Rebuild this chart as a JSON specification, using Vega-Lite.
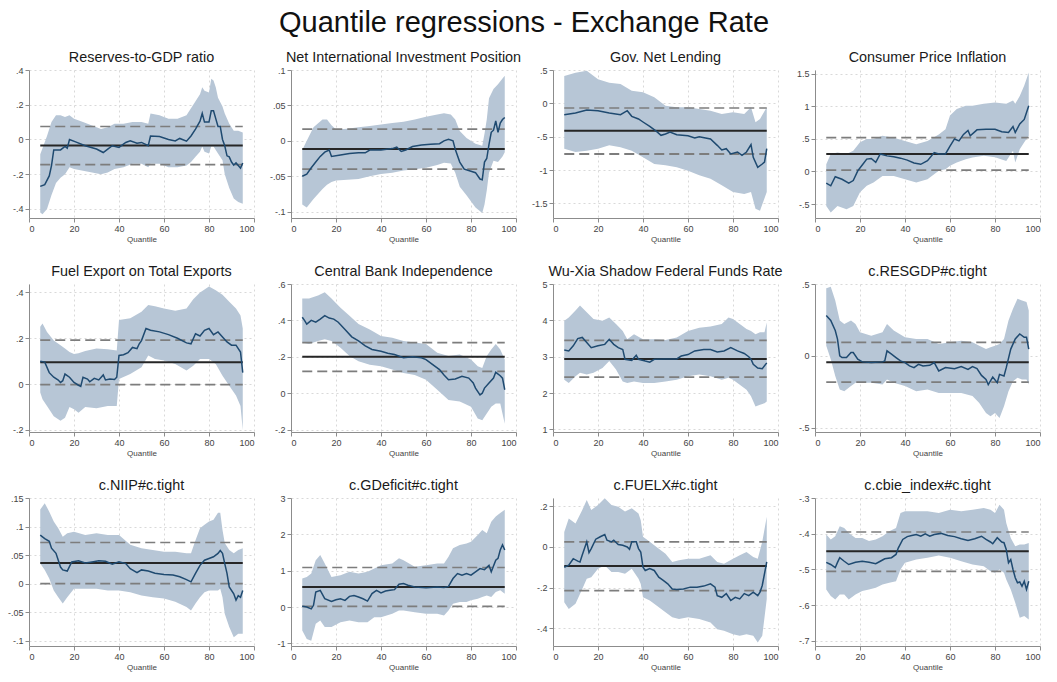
{
  "$schema": "https://vega.github.io/schema/vega-lite/v6.json",
  "background": "white",
  "padding": {"left": 7, "top": 8, "right": 2, "bottom": 2},
  "title": {"text": "Quantile regressions - Exchange Rate", "fontSize": 29, "anchor": "middle", "offset": 12, "color": "#111"},
  "bounds": "flush",
  "datasets": {
    "est": [
      {"p":"res","q":5,"b":-0.27},{"p":"res","q":7,"b":-0.26},{"p":"res","q":9,"b":-0.21},{"p":"res","q":10,"b":-0.15},{"p":"res","q":11,"b":-0.06},{"p":"res","q":14,"b":-0.06},{"p":"res","q":16,"b":-0.04},{"p":"res","q":17,"b":-0.05},{"p":"res","q":18,"b":0.0},{"p":"res","q":21,"b":-0.015},{"p":"res","q":25,"b":-0.036},{"p":"res","q":30,"b":-0.055},{"p":"res","q":33,"b":-0.075},{"p":"res","q":35,"b":-0.055},{"p":"res","q":37,"b":-0.036},{"p":"res","q":40,"b":-0.046},{"p":"res","q":43,"b":-0.017},{"p":"res","q":45,"b":-0.008},{"p":"res","q":48,"b":-0.021},{"p":"res","q":50,"b":-0.017},{"p":"res","q":53,"b":-0.036},{"p":"res","q":54,"b":0.02},{"p":"res","q":58,"b":0.017},{"p":"res","q":62,"b":0.0},{"p":"res","q":65,"b":-0.008},{"p":"res","q":67,"b":0.006},{"p":"res","q":70,"b":-0.01},{"p":"res","q":72,"b":0.02},{"p":"res","q":74,"b":0.06},{"p":"res","q":76,"b":0.105},{"p":"res","q":77,"b":0.15},{"p":"res","q":78,"b":0.1},{"p":"res","q":80,"b":0.1},{"p":"res","q":81,"b":0.165},{"p":"res","q":82,"b":0.165},{"p":"res","q":83,"b":0.12},{"p":"res","q":84,"b":0.075},{"p":"res","q":85,"b":0.075},{"p":"res","q":86,"b":0.0},{"p":"res","q":87,"b":-0.036},{"p":"res","q":88,"b":-0.094},{"p":"res","q":89,"b":-0.1},{"p":"res","q":90,"b":-0.13},{"p":"res","q":91,"b":-0.147},{"p":"res","q":92,"b":-0.135},{"p":"res","q":93,"b":-0.15},{"p":"res","q":94,"b":-0.165},{"p":"res","q":95,"b":-0.135},

      {"p":"niip","q":5,"b":-0.05},{"p":"niip","q":7,"b":-0.047},{"p":"niip","q":9,"b":-0.038},{"p":"niip","q":11,"b":-0.03},{"p":"niip","q":13,"b":-0.022},{"p":"niip","q":15,"b":-0.016},{"p":"niip","q":17,"b":-0.013},{"p":"niip","q":18,"b":-0.022},{"p":"niip","q":22,"b":-0.02},{"p":"niip","q":26,"b":-0.018},{"p":"niip","q":30,"b":-0.017},{"p":"niip","q":33,"b":-0.017},{"p":"niip","q":35,"b":-0.013},{"p":"niip","q":40,"b":-0.013},{"p":"niip","q":45,"b":-0.011},{"p":"niip","q":47,"b":-0.009},{"p":"niip","q":49,"b":-0.015},{"p":"niip","q":51,"b":-0.013},{"p":"niip","q":54,"b":-0.008},{"p":"niip","q":58,"b":-0.006},{"p":"niip","q":62,"b":-0.005},{"p":"niip","q":66,"b":-0.004},{"p":"niip","q":68,"b":0.0},{"p":"niip","q":70,"b":0.002},{"p":"niip","q":72,"b":0.0},{"p":"niip","q":73,"b":-0.012},{"p":"niip","q":75,"b":-0.03},{"p":"niip","q":77,"b":-0.04},{"p":"niip","q":80,"b":-0.043},{"p":"niip","q":82,"b":-0.045},{"p":"niip","q":84,"b":-0.054},{"p":"niip","q":85,"b":-0.055},{"p":"niip","q":86,"b":-0.03},{"p":"niip","q":87,"b":-0.025},{"p":"niip","q":88,"b":-0.005},{"p":"niip","q":89,"b":0.012},{"p":"niip","q":90,"b":0.015},{"p":"niip","q":91,"b":0.028},{"p":"niip","q":92,"b":0.012},{"p":"niip","q":93,"b":0.025},{"p":"niip","q":94,"b":0.03},{"p":"niip","q":95,"b":0.033},

      {"p":"gov","q":5,"b":-0.17},{"p":"gov","q":10,"b":-0.145},{"p":"gov","q":15,"b":-0.1},{"p":"gov","q":20,"b":-0.11},{"p":"gov","q":25,"b":-0.145},{"p":"gov","q":30,"b":-0.17},{"p":"gov","q":33,"b":-0.11},{"p":"gov","q":35,"b":-0.195},{"p":"gov","q":38,"b":-0.235},{"p":"gov","q":40,"b":-0.28},{"p":"gov","q":43,"b":-0.345},{"p":"gov","q":46,"b":-0.42},{"p":"gov","q":48,"b":-0.48},{"p":"gov","q":50,"b":-0.46},{"p":"gov","q":52,"b":-0.43},{"p":"gov","q":55,"b":-0.47},{"p":"gov","q":60,"b":-0.485},{"p":"gov","q":63,"b":-0.52},{"p":"gov","q":65,"b":-0.5},{"p":"gov","q":70,"b":-0.535},{"p":"gov","q":73,"b":-0.63},{"p":"gov","q":75,"b":-0.7},{"p":"gov","q":77,"b":-0.68},{"p":"gov","q":79,"b":-0.76},{"p":"gov","q":82,"b":-0.73},{"p":"gov","q":84,"b":-0.78},{"p":"gov","q":86,"b":-0.73},{"p":"gov","q":88,"b":-0.62},{"p":"gov","q":89,"b":-0.81},{"p":"gov","q":91,"b":-0.96},{"p":"gov","q":93,"b":-0.91},{"p":"gov","q":94,"b":-0.88},{"p":"gov","q":95,"b":-0.68},

      {"p":"cpi","q":5,"b":-0.18},{"p":"cpi","q":7,"b":-0.22},{"p":"cpi","q":9,"b":-0.08},{"p":"cpi","q":12,"b":-0.12},{"p":"cpi","q":15,"b":-0.18},{"p":"cpi","q":17,"b":-0.14},{"p":"cpi","q":19,"b":0.01},{"p":"cpi","q":21,"b":0.1},{"p":"cpi","q":23,"b":0.19},{"p":"cpi","q":25,"b":0.2},{"p":"cpi","q":27,"b":0.14},{"p":"cpi","q":29,"b":0.27},{"p":"cpi","q":32,"b":0.24},{"p":"cpi","q":35,"b":0.225},{"p":"cpi","q":38,"b":0.205},{"p":"cpi","q":41,"b":0.175},{"p":"cpi","q":44,"b":0.13},{"p":"cpi","q":47,"b":0.11},{"p":"cpi","q":50,"b":0.165},{"p":"cpi","q":53,"b":0.29},{"p":"cpi","q":55,"b":0.27},{"p":"cpi","q":58,"b":0.27},{"p":"cpi","q":60,"b":0.39},{"p":"cpi","q":62,"b":0.5},{"p":"cpi","q":64,"b":0.47},{"p":"cpi","q":66,"b":0.57},{"p":"cpi","q":68,"b":0.63},{"p":"cpi","q":69,"b":0.55},{"p":"cpi","q":72,"b":0.64},{"p":"cpi","q":76,"b":0.65},{"p":"cpi","q":80,"b":0.65},{"p":"cpi","q":83,"b":0.61},{"p":"cpi","q":86,"b":0.6},{"p":"cpi","q":88,"b":0.69},{"p":"cpi","q":89,"b":0.6},{"p":"cpi","q":91,"b":0.73},{"p":"cpi","q":93,"b":0.8},{"p":"cpi","q":95,"b":1.01},

      {"p":"fuel","q":5,"b":0.1},{"p":"fuel","q":7,"b":0.096},{"p":"fuel","q":9,"b":0.05},{"p":"fuel","q":11,"b":0.03},{"p":"fuel","q":13,"b":0.018},{"p":"fuel","q":14,"b":0.007},{"p":"fuel","q":15,"b":0.015},{"p":"fuel","q":16,"b":0.044},{"p":"fuel","q":18,"b":0.03},{"p":"fuel","q":20,"b":0.007},{"p":"fuel","q":22,"b":-0.005},{"p":"fuel","q":23,"b":-0.01},{"p":"fuel","q":24,"b":0.03},{"p":"fuel","q":26,"b":0.022},{"p":"fuel","q":27,"b":0.01},{"p":"fuel","q":29,"b":0.025},{"p":"fuel","q":31,"b":0.018},{"p":"fuel","q":33,"b":0.04},{"p":"fuel","q":34,"b":0.018},{"p":"fuel","q":36,"b":0.022},{"p":"fuel","q":38,"b":0.02},{"p":"fuel","q":39,"b":0.03},{"p":"fuel","q":40,"b":0.125},{"p":"fuel","q":42,"b":0.128},{"p":"fuel","q":44,"b":0.137},{"p":"fuel","q":46,"b":0.16},{"p":"fuel","q":48,"b":0.155},{"p":"fuel","q":49,"b":0.176},{"p":"fuel","q":50,"b":0.19},{"p":"fuel","q":52,"b":0.243},{"p":"fuel","q":54,"b":0.235},{"p":"fuel","q":58,"b":0.228},{"p":"fuel","q":62,"b":0.216},{"p":"fuel","q":66,"b":0.2},{"p":"fuel","q":70,"b":0.18},{"p":"fuel","q":72,"b":0.176},{"p":"fuel","q":74,"b":0.22},{"p":"fuel","q":76,"b":0.21},{"p":"fuel","q":78,"b":0.235},{"p":"fuel","q":80,"b":0.243},{"p":"fuel","q":82,"b":0.216},{"p":"fuel","q":84,"b":0.228},{"p":"fuel","q":86,"b":0.206},{"p":"fuel","q":88,"b":0.184},{"p":"fuel","q":90,"b":0.17},{"p":"fuel","q":92,"b":0.17},{"p":"fuel","q":94,"b":0.14},{"p":"fuel","q":95,"b":0.05},

      {"p":"cbi","q":5,"b":0.417},{"p":"cbi","q":6,"b":0.4},{"p":"cbi","q":7,"b":0.38},{"p":"cbi","q":9,"b":0.4},{"p":"cbi","q":11,"b":0.39},{"p":"cbi","q":13,"b":0.407},{"p":"cbi","q":15,"b":0.426},{"p":"cbi","q":17,"b":0.413},{"p":"cbi","q":19,"b":0.407},{"p":"cbi","q":21,"b":0.39},{"p":"cbi","q":24,"b":0.35},{"p":"cbi","q":27,"b":0.31},{"p":"cbi","q":30,"b":0.287},{"p":"cbi","q":33,"b":0.26},{"p":"cbi","q":36,"b":0.24},{"p":"cbi","q":40,"b":0.23},{"p":"cbi","q":43,"b":0.22},{"p":"cbi","q":46,"b":0.213},{"p":"cbi","q":50,"b":0.195},{"p":"cbi","q":54,"b":0.2},{"p":"cbi","q":58,"b":0.195},{"p":"cbi","q":60,"b":0.185},{"p":"cbi","q":63,"b":0.157},{"p":"cbi","q":66,"b":0.13},{"p":"cbi","q":68,"b":0.1},{"p":"cbi","q":70,"b":0.074},{"p":"cbi","q":73,"b":0.078},{"p":"cbi","q":76,"b":0.093},{"p":"cbi","q":79,"b":0.083},{"p":"cbi","q":81,"b":0.056},{"p":"cbi","q":82,"b":0.028},{"p":"cbi","q":84,"b":-0.009},{"p":"cbi","q":85,"b":0.0},{"p":"cbi","q":86,"b":0.028},{"p":"cbi","q":88,"b":0.056},{"p":"cbi","q":90,"b":0.083},{"p":"cbi","q":91,"b":0.115},{"p":"cbi","q":93,"b":0.096},{"p":"cbi","q":94,"b":0.083},{"p":"cbi","q":95,"b":0.019},

      {"p":"wx","q":5,"b":3.185},{"p":"wx","q":7,"b":3.16},{"p":"wx","q":9,"b":3.3},{"p":"wx","q":11,"b":3.5},{"p":"wx","q":13,"b":3.53},{"p":"wx","q":15,"b":3.39},{"p":"wx","q":17,"b":3.25},{"p":"wx","q":20,"b":3.3},{"p":"wx","q":23,"b":3.34},{"p":"wx","q":25,"b":3.48},{"p":"wx","q":27,"b":3.34},{"p":"wx","q":29,"b":3.25},{"p":"wx","q":31,"b":3.2},{"p":"wx","q":32,"b":2.93},{"p":"wx","q":35,"b":2.9},{"p":"wx","q":37,"b":3.04},{"p":"wx","q":38,"b":2.93},{"p":"wx","q":41,"b":2.88},{"p":"wx","q":43,"b":2.85},{"p":"wx","q":45,"b":2.93},{"p":"wx","q":50,"b":2.94},{"p":"wx","q":55,"b":2.94},{"p":"wx","q":57,"b":3.02},{"p":"wx","q":60,"b":3.06},{"p":"wx","q":63,"b":3.16},{"p":"wx","q":67,"b":3.2},{"p":"wx","q":70,"b":3.2},{"p":"wx","q":73,"b":3.13},{"p":"wx","q":76,"b":3.16},{"p":"wx","q":79,"b":3.25},{"p":"wx","q":82,"b":3.16},{"p":"wx","q":85,"b":3.09},{"p":"wx","q":87,"b":3.0},{"p":"wx","q":88,"b":2.93},{"p":"wx","q":89,"b":2.79},{"p":"wx","q":91,"b":2.69},{"p":"wx","q":93,"b":2.67},{"p":"wx","q":95,"b":2.83},

      {"p":"res_t","q":5,"b":0.28},{"p":"res_t","q":7,"b":0.246},{"p":"res_t","q":9,"b":0.176},{"p":"res_t","q":10,"b":0.117},{"p":"res_t","q":11,"b":0.0},{"p":"res_t","q":12,"b":-0.012},{"p":"res_t","q":14,"b":-0.012},{"p":"res_t","q":16,"b":0.023},{"p":"res_t","q":17,"b":0.023},{"p":"res_t","q":19,"b":-0.023},{"p":"res_t","q":21,"b":-0.042},{"p":"res_t","q":25,"b":-0.047},{"p":"res_t","q":30,"b":-0.042},{"p":"res_t","q":31,"b":-0.035},{"p":"res_t","q":32,"b":0.035},{"p":"res_t","q":34,"b":0.012},{"p":"res_t","q":36,"b":-0.012},{"p":"res_t","q":38,"b":-0.035},{"p":"res_t","q":40,"b":-0.047},{"p":"res_t","q":42,"b":-0.07},{"p":"res_t","q":44,"b":-0.082},{"p":"res_t","q":46,"b":-0.059},{"p":"res_t","q":48,"b":-0.07},{"p":"res_t","q":51,"b":-0.066},{"p":"res_t","q":53,"b":-0.047},{"p":"res_t","q":55,"b":-0.105},{"p":"res_t","q":58,"b":-0.082},{"p":"res_t","q":62,"b":-0.089},{"p":"res_t","q":65,"b":-0.075},{"p":"res_t","q":68,"b":-0.094},{"p":"res_t","q":70,"b":-0.075},{"p":"res_t","q":72,"b":-0.089},{"p":"res_t","q":74,"b":-0.136},{"p":"res_t","q":76,"b":-0.164},{"p":"res_t","q":77,"b":-0.2},{"p":"res_t","q":79,"b":-0.148},{"p":"res_t","q":81,"b":-0.187},{"p":"res_t","q":82,"b":-0.129},{"p":"res_t","q":84,"b":-0.14},{"p":"res_t","q":85,"b":-0.082},{"p":"res_t","q":87,"b":0.047},{"p":"res_t","q":89,"b":0.117},{"p":"res_t","q":91,"b":0.152},{"p":"res_t","q":93,"b":0.129},{"p":"res_t","q":94,"b":0.129},{"p":"res_t","q":95,"b":0.047},

      {"p":"niip_t","q":5,"b":0.085},{"p":"niip_t","q":7,"b":0.079},{"p":"niip_t","q":9,"b":0.074},{"p":"niip_t","q":10,"b":0.062},{"p":"niip_t","q":12,"b":0.053},{"p":"niip_t","q":14,"b":0.029},{"p":"niip_t","q":15,"b":0.024},{"p":"niip_t","q":17,"b":0.022},{"p":"niip_t","q":19,"b":0.038},{"p":"niip_t","q":22,"b":0.04},{"p":"niip_t","q":25,"b":0.036},{"p":"niip_t","q":28,"b":0.038},{"p":"niip_t","q":31,"b":0.04},{"p":"niip_t","q":34,"b":0.039},{"p":"niip_t","q":37,"b":0.034},{"p":"niip_t","q":40,"b":0.038},{"p":"niip_t","q":43,"b":0.035},{"p":"niip_t","q":45,"b":0.026},{"p":"niip_t","q":48,"b":0.019},{"p":"niip_t","q":50,"b":0.024},{"p":"niip_t","q":53,"b":0.022},{"p":"niip_t","q":56,"b":0.018},{"p":"niip_t","q":60,"b":0.016},{"p":"niip_t","q":64,"b":0.015},{"p":"niip_t","q":67,"b":0.012},{"p":"niip_t","q":70,"b":0.007},{"p":"niip_t","q":72,"b":0.003},{"p":"niip_t","q":74,"b":0.018},{"p":"niip_t","q":76,"b":0.032},{"p":"niip_t","q":78,"b":0.041},{"p":"niip_t","q":80,"b":0.044},{"p":"niip_t","q":82,"b":0.047},{"p":"niip_t","q":84,"b":0.053},{"p":"niip_t","q":85,"b":0.058},{"p":"niip_t","q":86,"b":0.053},{"p":"niip_t","q":87,"b":0.035},{"p":"niip_t","q":88,"b":0.018},{"p":"niip_t","q":89,"b":-0.006},{"p":"niip_t","q":91,"b":-0.018},{"p":"niip_t","q":92,"b":-0.029},{"p":"niip_t","q":93,"b":-0.021},{"p":"niip_t","q":94,"b":-0.024},{"p":"niip_t","q":95,"b":-0.012},

      {"p":"gdef_t","q":5,"b":0.02},{"p":"gdef_t","q":7,"b":0.0},{"p":"gdef_t","q":9,"b":-0.05},{"p":"gdef_t","q":10,"b":0.05},{"p":"gdef_t","q":11,"b":0.415},{"p":"gdef_t","q":13,"b":0.46},{"p":"gdef_t","q":15,"b":0.23},{"p":"gdef_t","q":18,"b":0.157},{"p":"gdef_t","q":20,"b":0.2},{"p":"gdef_t","q":22,"b":0.23},{"p":"gdef_t","q":24,"b":0.185},{"p":"gdef_t","q":26,"b":0.295},{"p":"gdef_t","q":28,"b":0.32},{"p":"gdef_t","q":30,"b":0.277},{"p":"gdef_t","q":32,"b":0.23},{"p":"gdef_t","q":34,"b":0.166},{"p":"gdef_t","q":36,"b":0.37},{"p":"gdef_t","q":38,"b":0.46},{"p":"gdef_t","q":40,"b":0.39},{"p":"gdef_t","q":42,"b":0.44},{"p":"gdef_t","q":44,"b":0.46},{"p":"gdef_t","q":46,"b":0.48},{"p":"gdef_t","q":48,"b":0.63},{"p":"gdef_t","q":50,"b":0.646},{"p":"gdef_t","q":52,"b":0.6},{"p":"gdef_t","q":55,"b":0.554},{"p":"gdef_t","q":60,"b":0.535},{"p":"gdef_t","q":65,"b":0.554},{"p":"gdef_t","q":68,"b":0.54},{"p":"gdef_t","q":70,"b":0.57},{"p":"gdef_t","q":72,"b":0.785},{"p":"gdef_t","q":74,"b":0.923},{"p":"gdef_t","q":76,"b":0.877},{"p":"gdef_t","q":78,"b":0.92},{"p":"gdef_t","q":80,"b":0.877},{"p":"gdef_t","q":82,"b":0.97},{"p":"gdef_t","q":84,"b":1.06},{"p":"gdef_t","q":86,"b":1.03},{"p":"gdef_t","q":88,"b":1.15},{"p":"gdef_t","q":89,"b":0.97},{"p":"gdef_t","q":91,"b":1.29},{"p":"gdef_t","q":92,"b":1.34},{"p":"gdef_t","q":93,"b":1.57},{"p":"gdef_t","q":94,"b":1.71},{"p":"gdef_t","q":95,"b":1.57},

      {"p":"fuelx_t","q":5,"b":-0.1},{"p":"fuelx_t","q":7,"b":-0.09},{"p":"fuelx_t","q":9,"b":-0.058},{"p":"fuelx_t","q":11,"b":-0.07},{"p":"fuelx_t","q":12,"b":-0.074},{"p":"fuelx_t","q":13,"b":-0.04},{"p":"fuelx_t","q":15,"b":0.025},{"p":"fuelx_t","q":16,"b":-0.028},{"p":"fuelx_t","q":17,"b":-0.008},{"p":"fuelx_t","q":19,"b":0.038},{"p":"fuelx_t","q":21,"b":0.05},{"p":"fuelx_t","q":23,"b":0.061},{"p":"fuelx_t","q":24,"b":0.033},{"p":"fuelx_t","q":26,"b":0.025},{"p":"fuelx_t","q":27,"b":0.033},{"p":"fuelx_t","q":29,"b":0.012},{"p":"fuelx_t","q":31,"b":0.008},{"p":"fuelx_t","q":33,"b":0.0},{"p":"fuelx_t","q":34,"b":-0.012},{"p":"fuelx_t","q":35,"b":0.025},{"p":"fuelx_t","q":37,"b":0.025},{"p":"fuelx_t","q":38,"b":-0.008},{"p":"fuelx_t","q":39,"b":-0.025},{"p":"fuelx_t","q":40,"b":-0.1},{"p":"fuelx_t","q":41,"b":-0.116},{"p":"fuelx_t","q":43,"b":-0.107},{"p":"fuelx_t","q":45,"b":-0.116},{"p":"fuelx_t","q":47,"b":-0.149},{"p":"fuelx_t","q":49,"b":-0.165},{"p":"fuelx_t","q":51,"b":-0.182},{"p":"fuelx_t","q":53,"b":-0.207},{"p":"fuelx_t","q":55,"b":-0.21},{"p":"fuelx_t","q":58,"b":-0.207},{"p":"fuelx_t","q":61,"b":-0.198},{"p":"fuelx_t","q":64,"b":-0.198},{"p":"fuelx_t","q":67,"b":-0.193},{"p":"fuelx_t","q":70,"b":-0.182},{"p":"fuelx_t","q":72,"b":-0.198},{"p":"fuelx_t","q":73,"b":-0.24},{"p":"fuelx_t","q":75,"b":-0.248},{"p":"fuelx_t","q":77,"b":-0.23},{"p":"fuelx_t","q":79,"b":-0.264},{"p":"fuelx_t","q":81,"b":-0.248},{"p":"fuelx_t","q":83,"b":-0.256},{"p":"fuelx_t","q":85,"b":-0.23},{"p":"fuelx_t","q":87,"b":-0.24},{"p":"fuelx_t","q":89,"b":-0.223},{"p":"fuelx_t","q":91,"b":-0.24},{"p":"fuelx_t","q":92,"b":-0.223},{"p":"fuelx_t","q":93,"b":-0.19},{"p":"fuelx_t","q":95,"b":-0.074},

      {"p":"cbie_t","q":5,"b":-0.48},{"p":"cbie_t","q":7,"b":-0.486},{"p":"cbie_t","q":9,"b":-0.495},{"p":"cbie_t","q":10,"b":-0.48},{"p":"cbie_t","q":11,"b":-0.467},{"p":"cbie_t","q":13,"b":-0.477},{"p":"cbie_t","q":15,"b":-0.486},{"p":"cbie_t","q":18,"b":-0.48},{"p":"cbie_t","q":21,"b":-0.477},{"p":"cbie_t","q":24,"b":-0.48},{"p":"cbie_t","q":27,"b":-0.484},{"p":"cbie_t","q":29,"b":-0.477},{"p":"cbie_t","q":31,"b":-0.47},{"p":"cbie_t","q":34,"b":-0.467},{"p":"cbie_t","q":36,"b":-0.458},{"p":"cbie_t","q":37,"b":-0.44},{"p":"cbie_t","q":39,"b":-0.416},{"p":"cbie_t","q":41,"b":-0.408},{"p":"cbie_t","q":43,"b":-0.405},{"p":"cbie_t","q":45,"b":-0.402},{"p":"cbie_t","q":47,"b":-0.407},{"p":"cbie_t","q":49,"b":-0.4},{"p":"cbie_t","q":51,"b":-0.407},{"p":"cbie_t","q":53,"b":-0.402},{"p":"cbie_t","q":56,"b":-0.399},{"p":"cbie_t","q":59,"b":-0.405},{"p":"cbie_t","q":62,"b":-0.408},{"p":"cbie_t","q":65,"b":-0.414},{"p":"cbie_t","q":68,"b":-0.419},{"p":"cbie_t","q":71,"b":-0.414},{"p":"cbie_t","q":74,"b":-0.407},{"p":"cbie_t","q":76,"b":-0.416},{"p":"cbie_t","q":78,"b":-0.423},{"p":"cbie_t","q":79,"b":-0.428},{"p":"cbie_t","q":81,"b":-0.411},{"p":"cbie_t","q":83,"b":-0.423},{"p":"cbie_t","q":84,"b":-0.425},{"p":"cbie_t","q":85,"b":-0.444},{"p":"cbie_t","q":86,"b":-0.481},{"p":"cbie_t","q":87,"b":-0.472},{"p":"cbie_t","q":88,"b":-0.5},{"p":"cbie_t","q":89,"b":-0.523},{"p":"cbie_t","q":90,"b":-0.537},{"p":"cbie_t","q":91,"b":-0.535},{"p":"cbie_t","q":92,"b":-0.547},{"p":"cbie_t","q":93,"b":-0.533},{"p":"cbie_t","q":94,"b":-0.556},{"p":"cbie_t","q":95,"b":-0.533}
    ],
    "band": [
      {"p":"res","q":5,"lo":-0.42,"hi":-0.085},{"p":"res","q":6,"lo":-0.43,"hi":-0.05},{"p":"res","q":8,"lo":-0.4,"hi":0.02},{"p":"res","q":10,"lo":-0.32,"hi":0.1},{"p":"res","q":12,"lo":-0.25,"hi":0.14},{"p":"res","q":14,"lo":-0.22,"hi":0.14},{"p":"res","q":16,"lo":-0.2,"hi":0.13},{"p":"res","q":18,"lo":-0.16,"hi":0.14},{"p":"res","q":20,"lo":-0.17,"hi":0.12},{"p":"res","q":24,"lo":-0.18,"hi":0.1},{"p":"res","q":28,"lo":-0.19,"hi":0.08},{"p":"res","q":32,"lo":-0.2,"hi":0.06},{"p":"res","q":35,"lo":-0.19,"hi":0.07},{"p":"res","q":38,"lo":-0.17,"hi":0.09},{"p":"res","q":42,"lo":-0.16,"hi":0.09},{"p":"res","q":46,"lo":-0.14,"hi":0.1},{"p":"res","q":50,"lo":-0.14,"hi":0.1},{"p":"res","q":53,"lo":-0.16,"hi":0.09},{"p":"res","q":54,"lo":-0.14,"hi":0.15},{"p":"res","q":58,"lo":-0.14,"hi":0.14},{"p":"res","q":62,"lo":-0.16,"hi":0.12},{"p":"res","q":66,"lo":-0.16,"hi":0.12},{"p":"res","q":70,"lo":-0.15,"hi":0.14},{"p":"res","q":72,"lo":-0.13,"hi":0.18},{"p":"res","q":74,"lo":-0.1,"hi":0.22},{"p":"res","q":76,"lo":-0.07,"hi":0.26},{"p":"res","q":77,"lo":-0.04,"hi":0.3},{"p":"res","q":78,"lo":-0.07,"hi":0.28},{"p":"res","q":80,"lo":-0.08,"hi":0.27},{"p":"res","q":81,"lo":-0.04,"hi":0.35},{"p":"res","q":82,"lo":-0.04,"hi":0.34},{"p":"res","q":83,"lo":-0.06,"hi":0.3},{"p":"res","q":84,"lo":-0.08,"hi":0.24},{"p":"res","q":86,"lo":-0.12,"hi":0.19},{"p":"res","q":87,"lo":-0.2,"hi":0.15},{"p":"res","q":89,"lo":-0.28,"hi":0.09},{"p":"res","q":91,"lo":-0.34,"hi":0.05},{"p":"res","q":93,"lo":-0.36,"hi":0.05},{"p":"res","q":95,"lo":-0.37,"hi":0.04},

      {"p":"niip","q":5,"lo":-0.09,"hi":-0.013},{"p":"niip","q":7,"lo":-0.094,"hi":0.0},{"p":"niip","q":10,"lo":-0.082,"hi":0.019},{"p":"niip","q":14,"lo":-0.068,"hi":0.03},{"p":"niip","q":16,"lo":-0.062,"hi":0.03},{"p":"niip","q":18,"lo":-0.058,"hi":0.022},{"p":"niip","q":20,"lo":-0.056,"hi":0.016},{"p":"niip","q":25,"lo":-0.055,"hi":0.017},{"p":"niip","q":30,"lo":-0.054,"hi":0.019},{"p":"niip","q":35,"lo":-0.05,"hi":0.021},{"p":"niip","q":40,"lo":-0.047,"hi":0.023},{"p":"niip","q":45,"lo":-0.045,"hi":0.025},{"p":"niip","q":50,"lo":-0.042,"hi":0.027},{"p":"niip","q":55,"lo":-0.04,"hi":0.03},{"p":"niip","q":60,"lo":-0.038,"hi":0.034},{"p":"niip","q":65,"lo":-0.034,"hi":0.037},{"p":"niip","q":68,"lo":-0.031,"hi":0.039},{"p":"niip","q":71,"lo":-0.032,"hi":0.037},{"p":"niip","q":73,"lo":-0.045,"hi":0.03},{"p":"niip","q":75,"lo":-0.065,"hi":0.014},{"p":"niip","q":78,"lo":-0.077,"hi":0.004},{"p":"niip","q":82,"lo":-0.094,"hi":-0.004},{"p":"niip","q":85,"lo":-0.102,"hi":-0.007},{"p":"niip","q":86,"lo":-0.09,"hi":0.01},{"p":"niip","q":87,"lo":-0.07,"hi":0.03},{"p":"niip","q":88,"lo":-0.045,"hi":0.06},{"p":"niip","q":90,"lo":-0.028,"hi":0.073},{"p":"niip","q":92,"lo":-0.03,"hi":0.08},{"p":"niip","q":94,"lo":-0.022,"hi":0.088},{"p":"niip","q":95,"lo":-0.016,"hi":0.092},

      {"p":"gov","q":5,"lo":-0.68,"hi":0.41},{"p":"gov","q":10,"lo":-0.73,"hi":0.46},{"p":"gov","q":15,"lo":-0.71,"hi":0.49},{"p":"gov","q":20,"lo":-0.68,"hi":0.36},{"p":"gov","q":25,"lo":-0.63,"hi":0.31},{"p":"gov","q":30,"lo":-0.66,"hi":0.29},{"p":"gov","q":35,"lo":-0.71,"hi":0.19},{"p":"gov","q":40,"lo":-0.81,"hi":0.165},{"p":"gov","q":45,"lo":-0.91,"hi":0.09},{"p":"gov","q":50,"lo":-0.93,"hi":-0.035},{"p":"gov","q":55,"lo":-0.96,"hi":-0.06},{"p":"gov","q":60,"lo":-1.01,"hi":-0.06},{"p":"gov","q":65,"lo":-1.08,"hi":-0.085},{"p":"gov","q":70,"lo":-1.13,"hi":-0.11},{"p":"gov","q":75,"lo":-1.23,"hi":-0.16},{"p":"gov","q":80,"lo":-1.33,"hi":-0.135},{"p":"gov","q":85,"lo":-1.36,"hi":-0.16},{"p":"gov","q":88,"lo":-1.33,"hi":-0.06},{"p":"gov","q":90,"lo":-1.58,"hi":-0.285},{"p":"gov","q":92,"lo":-1.61,"hi":-0.235},{"p":"gov","q":95,"lo":-1.33,"hi":-0.06},

      {"p":"cpi","q":5,"lo":-0.53,"hi":0.11},{"p":"cpi","q":7,"lo":-0.63,"hi":0.27},{"p":"cpi","q":10,"lo":-0.53,"hi":0.29},{"p":"cpi","q":14,"lo":-0.58,"hi":0.27},{"p":"cpi","q":17,"lo":-0.53,"hi":0.32},{"p":"cpi","q":20,"lo":-0.32,"hi":0.45},{"p":"cpi","q":23,"lo":-0.22,"hi":0.5},{"p":"cpi","q":26,"lo":-0.17,"hi":0.5},{"p":"cpi","q":30,"lo":-0.07,"hi":0.55},{"p":"cpi","q":35,"lo":-0.07,"hi":0.52},{"p":"cpi","q":40,"lo":-0.12,"hi":0.47},{"p":"cpi","q":45,"lo":-0.17,"hi":0.42},{"p":"cpi","q":50,"lo":-0.12,"hi":0.47},{"p":"cpi","q":55,"lo":0.01,"hi":0.57},{"p":"cpi","q":58,"lo":0.036,"hi":0.65},{"p":"cpi","q":60,"lo":0.09,"hi":0.86},{"p":"cpi","q":63,"lo":0.14,"hi":0.96},{"p":"cpi","q":67,"lo":0.19,"hi":1.01},{"p":"cpi","q":70,"lo":0.215,"hi":1.01},{"p":"cpi","q":75,"lo":0.24,"hi":1.04},{"p":"cpi","q":80,"lo":0.22,"hi":1.06},{"p":"cpi","q":85,"lo":0.16,"hi":1.04},{"p":"cpi","q":88,"lo":0.32,"hi":1.09},{"p":"cpi","q":89,"lo":0.14,"hi":1.04},{"p":"cpi","q":91,"lo":0.34,"hi":1.16},{"p":"cpi","q":93,"lo":0.45,"hi":1.32},{"p":"cpi","q":95,"lo":0.55,"hi":1.52},

      {"p":"fuel","q":5,"lo":-0.037,"hi":0.25},{"p":"fuel","q":6,"lo":-0.066,"hi":0.265},{"p":"fuel","q":8,"lo":-0.096,"hi":0.228},{"p":"fuel","q":11,"lo":-0.14,"hi":0.19},{"p":"fuel","q":14,"lo":-0.16,"hi":0.17},{"p":"fuel","q":16,"lo":-0.147,"hi":0.155},{"p":"fuel","q":18,"lo":-0.1,"hi":0.14},{"p":"fuel","q":20,"lo":-0.11,"hi":0.132},{"p":"fuel","q":22,"lo":-0.125,"hi":0.135},{"p":"fuel","q":25,"lo":-0.1,"hi":0.145},{"p":"fuel","q":30,"lo":-0.105,"hi":0.155},{"p":"fuel","q":35,"lo":-0.096,"hi":0.152},{"p":"fuel","q":39,"lo":-0.096,"hi":0.147},{"p":"fuel","q":40,"lo":0.022,"hi":0.28},{"p":"fuel","q":45,"lo":0.044,"hi":0.287},{"p":"fuel","q":50,"lo":0.074,"hi":0.316},{"p":"fuel","q":53,"lo":0.125,"hi":0.345},{"p":"fuel","q":56,"lo":0.11,"hi":0.34},{"p":"fuel","q":60,"lo":0.103,"hi":0.33},{"p":"fuel","q":65,"lo":0.088,"hi":0.32},{"p":"fuel","q":70,"lo":0.059,"hi":0.33},{"p":"fuel","q":73,"lo":0.08,"hi":0.37},{"p":"fuel","q":76,"lo":0.11,"hi":0.4},{"p":"fuel","q":80,"lo":0.11,"hi":0.426},{"p":"fuel","q":83,"lo":0.088,"hi":0.41},{"p":"fuel","q":86,"lo":0.037,"hi":0.39},{"p":"fuel","q":89,"lo":-0.007,"hi":0.36},{"p":"fuel","q":92,"lo":-0.05,"hi":0.33},{"p":"fuel","q":94,"lo":-0.096,"hi":0.3},{"p":"fuel","q":95,"lo":-0.2,"hi":0.243},

      {"p":"cbi","q":5,"lo":0.278,"hi":0.52},{"p":"cbi","q":8,"lo":0.27,"hi":0.52},{"p":"cbi","q":12,"lo":0.287,"hi":0.537},{"p":"cbi","q":15,"lo":0.296,"hi":0.555},{"p":"cbi","q":18,"lo":0.287,"hi":0.52},{"p":"cbi","q":22,"lo":0.25,"hi":0.47},{"p":"cbi","q":26,"lo":0.204,"hi":0.426},{"p":"cbi","q":30,"lo":0.176,"hi":0.38},{"p":"cbi","q":35,"lo":0.157,"hi":0.35},{"p":"cbi","q":40,"lo":0.148,"hi":0.315},{"p":"cbi","q":45,"lo":0.13,"hi":0.305},{"p":"cbi","q":50,"lo":0.111,"hi":0.287},{"p":"cbi","q":55,"lo":0.1,"hi":0.278},{"p":"cbi","q":60,"lo":0.074,"hi":0.27},{"p":"cbi","q":65,"lo":0.019,"hi":0.222},{"p":"cbi","q":70,"lo":-0.037,"hi":0.204},{"p":"cbi","q":75,"lo":-0.046,"hi":0.213},{"p":"cbi","q":80,"lo":-0.074,"hi":0.185},{"p":"cbi","q":83,"lo":-0.139,"hi":0.148},{"p":"cbi","q":85,"lo":-0.148,"hi":0.139},{"p":"cbi","q":87,"lo":-0.111,"hi":0.204},{"p":"cbi","q":89,"lo":-0.074,"hi":0.24},{"p":"cbi","q":91,"lo":-0.056,"hi":0.27},{"p":"cbi","q":93,"lo":-0.056,"hi":0.24},{"p":"cbi","q":95,"lo":-0.167,"hi":0.185},

      {"p":"wx","q":5,"lo":2.37,"hi":3.99},{"p":"wx","q":7,"lo":2.28,"hi":4.08},{"p":"wx","q":10,"lo":2.46,"hi":4.27},{"p":"wx","q":12,"lo":2.56,"hi":4.41},{"p":"wx","q":15,"lo":2.51,"hi":4.22},{"p":"wx","q":18,"lo":2.56,"hi":4.04},{"p":"wx","q":22,"lo":2.69,"hi":3.99},{"p":"wx","q":25,"lo":2.88,"hi":4.08},{"p":"wx","q":28,"lo":2.65,"hi":3.9},{"p":"wx","q":31,"lo":2.32,"hi":3.71},{"p":"wx","q":33,"lo":2.28,"hi":3.48},{"p":"wx","q":36,"lo":2.32,"hi":3.62},{"p":"wx","q":40,"lo":2.28,"hi":3.48},{"p":"wx","q":45,"lo":2.28,"hi":3.48},{"p":"wx","q":50,"lo":2.32,"hi":3.46},{"p":"wx","q":55,"lo":2.37,"hi":3.53},{"p":"wx","q":60,"lo":2.46,"hi":3.71},{"p":"wx","q":65,"lo":2.51,"hi":3.8},{"p":"wx","q":70,"lo":2.46,"hi":3.83},{"p":"wx","q":75,"lo":2.37,"hi":3.9},{"p":"wx","q":78,"lo":2.42,"hi":4.08},{"p":"wx","q":80,"lo":2.37,"hi":4.04},{"p":"wx","q":83,"lo":2.23,"hi":3.9},{"p":"wx","q":86,"lo":2.09,"hi":3.76},{"p":"wx","q":88,"lo":1.91,"hi":3.71},{"p":"wx","q":90,"lo":1.63,"hi":3.62},{"p":"wx","q":92,"lo":1.68,"hi":3.67},{"p":"wx","q":94,"lo":1.72,"hi":3.67},{"p":"wx","q":95,"lo":1.77,"hi":3.94},

      {"p":"res_t","q":5,"lo":0.07,"hi":0.47},{"p":"res_t","q":7,"lo":-0.023,"hi":0.48},{"p":"res_t","q":9,"lo":-0.14,"hi":0.386},{"p":"res_t","q":11,"lo":-0.234,"hi":0.246},{"p":"res_t","q":13,"lo":-0.246,"hi":0.222},{"p":"res_t","q":16,"lo":-0.21,"hi":0.246},{"p":"res_t","q":18,"lo":-0.187,"hi":0.222},{"p":"res_t","q":20,"lo":-0.187,"hi":0.164},{"p":"res_t","q":25,"lo":-0.187,"hi":0.14},{"p":"res_t","q":30,"lo":-0.2,"hi":0.164},{"p":"res_t","q":32,"lo":-0.164,"hi":0.222},{"p":"res_t","q":35,"lo":-0.187,"hi":0.176},{"p":"res_t","q":40,"lo":-0.21,"hi":0.129},{"p":"res_t","q":45,"lo":-0.246,"hi":0.117},{"p":"res_t","q":50,"lo":-0.234,"hi":0.117},{"p":"res_t","q":55,"lo":-0.258,"hi":0.082},{"p":"res_t","q":60,"lo":-0.258,"hi":0.094},{"p":"res_t","q":65,"lo":-0.258,"hi":0.105},{"p":"res_t","q":70,"lo":-0.28,"hi":0.094},{"p":"res_t","q":73,"lo":-0.328,"hi":0.07},{"p":"res_t","q":76,"lo":-0.398,"hi":0.047},{"p":"res_t","q":78,"lo":-0.42,"hi":0.059},{"p":"res_t","q":80,"lo":-0.398,"hi":0.07},{"p":"res_t","q":82,"lo":-0.433,"hi":0.082},{"p":"res_t","q":84,"lo":-0.351,"hi":0.117},{"p":"res_t","q":86,"lo":-0.246,"hi":0.246},{"p":"res_t","q":88,"lo":-0.176,"hi":0.328},{"p":"res_t","q":90,"lo":-0.152,"hi":0.398},{"p":"res_t","q":92,"lo":-0.164,"hi":0.386},{"p":"res_t","q":94,"lo":-0.164,"hi":0.375},{"p":"res_t","q":95,"lo":-0.2,"hi":0.316},

      {"p":"niip_t","q":5,"lo":0.035,"hi":0.13},{"p":"niip_t","q":7,"lo":0.024,"hi":0.141},{"p":"niip_t","q":9,"lo":0.009,"hi":0.126},{"p":"niip_t","q":11,"lo":-0.012,"hi":0.109},{"p":"niip_t","q":13,"lo":-0.024,"hi":0.097},{"p":"niip_t","q":15,"lo":-0.035,"hi":0.082},{"p":"niip_t","q":17,"lo":-0.024,"hi":0.088},{"p":"niip_t","q":20,"lo":-0.009,"hi":0.091},{"p":"niip_t","q":25,"lo":-0.009,"hi":0.085},{"p":"niip_t","q":30,"lo":-0.009,"hi":0.088},{"p":"niip_t","q":35,"lo":-0.012,"hi":0.085},{"p":"niip_t","q":40,"lo":-0.012,"hi":0.085},{"p":"niip_t","q":45,"lo":-0.015,"hi":0.068},{"p":"niip_t","q":50,"lo":-0.021,"hi":0.062},{"p":"niip_t","q":55,"lo":-0.024,"hi":0.059},{"p":"niip_t","q":60,"lo":-0.026,"hi":0.056},{"p":"niip_t","q":65,"lo":-0.032,"hi":0.056},{"p":"niip_t","q":70,"lo":-0.041,"hi":0.053},{"p":"niip_t","q":72,"lo":-0.047,"hi":0.053},{"p":"niip_t","q":74,"lo":-0.035,"hi":0.076},{"p":"niip_t","q":76,"lo":-0.024,"hi":0.097},{"p":"niip_t","q":78,"lo":-0.015,"hi":0.103},{"p":"niip_t","q":80,"lo":-0.012,"hi":0.109},{"p":"niip_t","q":82,"lo":-0.012,"hi":0.112},{"p":"niip_t","q":84,"lo":-0.012,"hi":0.124},{"p":"niip_t","q":85,"lo":-0.009,"hi":0.124},{"p":"niip_t","q":86,"lo":-0.024,"hi":0.094},{"p":"niip_t","q":87,"lo":-0.053,"hi":0.071},{"p":"niip_t","q":89,"lo":-0.076,"hi":0.059},{"p":"niip_t","q":91,"lo":-0.094,"hi":0.053},{"p":"niip_t","q":93,"lo":-0.088,"hi":0.059},{"p":"niip_t","q":95,"lo":-0.088,"hi":0.062},

      {"p":"gdef_t","q":5,"lo":-0.646,"hi":0.785},{"p":"gdef_t","q":7,"lo":-0.877,"hi":0.83},{"p":"gdef_t","q":9,"lo":-0.923,"hi":0.923},{"p":"gdef_t","q":11,"lo":-0.46,"hi":1.29},{"p":"gdef_t","q":13,"lo":-0.37,"hi":1.43},{"p":"gdef_t","q":15,"lo":-0.55,"hi":1.2},{"p":"gdef_t","q":18,"lo":-0.55,"hi":0.83},{"p":"gdef_t","q":22,"lo":-0.415,"hi":0.877},{"p":"gdef_t","q":26,"lo":-0.37,"hi":0.97},{"p":"gdef_t","q":30,"lo":-0.415,"hi":0.923},{"p":"gdef_t","q":34,"lo":-0.415,"hi":0.97},{"p":"gdef_t","q":37,"lo":-0.277,"hi":1.06},{"p":"gdef_t","q":40,"lo":-0.277,"hi":1.15},{"p":"gdef_t","q":45,"lo":-0.185,"hi":1.2},{"p":"gdef_t","q":48,"lo":-0.092,"hi":1.34},{"p":"gdef_t","q":50,"lo":-0.092,"hi":1.29},{"p":"gdef_t","q":55,"lo":-0.14,"hi":1.11},{"p":"gdef_t","q":60,"lo":-0.185,"hi":1.15},{"p":"gdef_t","q":65,"lo":-0.185,"hi":1.2},{"p":"gdef_t","q":68,"lo":-0.23,"hi":1.2},{"p":"gdef_t","q":70,"lo":-0.092,"hi":1.385},{"p":"gdef_t","q":72,"lo":0.092,"hi":1.62},{"p":"gdef_t","q":75,"lo":0.14,"hi":1.71},{"p":"gdef_t","q":78,"lo":0.14,"hi":1.75},{"p":"gdef_t","q":80,"lo":0.185,"hi":1.8},{"p":"gdef_t","q":83,"lo":0.23,"hi":1.985},{"p":"gdef_t","q":85,"lo":0.277,"hi":2.12},{"p":"gdef_t","q":87,"lo":0.32,"hi":2.03},{"p":"gdef_t","q":89,"lo":0.277,"hi":2.35},{"p":"gdef_t","q":91,"lo":0.415,"hi":2.49},{"p":"gdef_t","q":93,"lo":0.46,"hi":2.59},{"p":"gdef_t","q":95,"lo":0.37,"hi":2.68},

      {"p":"fuelx_t","q":5,"lo":-0.273,"hi":0.074},{"p":"fuelx_t","q":7,"lo":-0.306,"hi":0.14},{"p":"fuelx_t","q":10,"lo":-0.28,"hi":0.116},{"p":"fuelx_t","q":13,"lo":-0.207,"hi":0.182},{"p":"fuelx_t","q":15,"lo":-0.157,"hi":0.231},{"p":"fuelx_t","q":17,"lo":-0.149,"hi":0.182},{"p":"fuelx_t","q":20,"lo":-0.107,"hi":0.207},{"p":"fuelx_t","q":23,"lo":-0.091,"hi":0.24},{"p":"fuelx_t","q":26,"lo":-0.124,"hi":0.207},{"p":"fuelx_t","q":29,"lo":-0.124,"hi":0.198},{"p":"fuelx_t","q":32,"lo":-0.132,"hi":0.174},{"p":"fuelx_t","q":35,"lo":-0.107,"hi":0.19},{"p":"fuelx_t","q":38,"lo":-0.157,"hi":0.165},{"p":"fuelx_t","q":39,"lo":-0.182,"hi":0.132},{"p":"fuelx_t","q":40,"lo":-0.248,"hi":0.05},{"p":"fuelx_t","q":43,"lo":-0.264,"hi":0.025},{"p":"fuelx_t","q":46,"lo":-0.289,"hi":0.0},{"p":"fuelx_t","q":50,"lo":-0.322,"hi":-0.033},{"p":"fuelx_t","q":53,"lo":-0.347,"hi":-0.074},{"p":"fuelx_t","q":56,"lo":-0.355,"hi":-0.066},{"p":"fuelx_t","q":60,"lo":-0.347,"hi":-0.058},{"p":"fuelx_t","q":65,"lo":-0.355,"hi":-0.058},{"p":"fuelx_t","q":70,"lo":-0.372,"hi":-0.041},{"p":"fuelx_t","q":73,"lo":-0.405,"hi":-0.074},{"p":"fuelx_t","q":76,"lo":-0.413,"hi":-0.083},{"p":"fuelx_t","q":80,"lo":-0.43,"hi":-0.058},{"p":"fuelx_t","q":83,"lo":-0.438,"hi":-0.041},{"p":"fuelx_t","q":86,"lo":-0.43,"hi":-0.025},{"p":"fuelx_t","q":89,"lo":-0.438,"hi":-0.05},{"p":"fuelx_t","q":91,"lo":-0.471,"hi":-0.058},{"p":"fuelx_t","q":93,"lo":-0.438,"hi":0.025},{"p":"fuelx_t","q":95,"lo":-0.256,"hi":0.149},

      {"p":"cbie_t","q":5,"lo":-0.556,"hi":-0.402},{"p":"cbie_t","q":7,"lo":-0.574,"hi":-0.416},{"p":"cbie_t","q":9,"lo":-0.584,"hi":-0.407},{"p":"cbie_t","q":11,"lo":-0.57,"hi":-0.379},{"p":"cbie_t","q":13,"lo":-0.57,"hi":-0.384},{"p":"cbie_t","q":15,"lo":-0.584,"hi":-0.398},{"p":"cbie_t","q":18,"lo":-0.57,"hi":-0.412},{"p":"cbie_t","q":21,"lo":-0.56,"hi":-0.412},{"p":"cbie_t","q":24,"lo":-0.556,"hi":-0.42},{"p":"cbie_t","q":27,"lo":-0.551,"hi":-0.416},{"p":"cbie_t","q":30,"lo":-0.542,"hi":-0.407},{"p":"cbie_t","q":33,"lo":-0.537,"hi":-0.393},{"p":"cbie_t","q":36,"lo":-0.533,"hi":-0.384},{"p":"cbie_t","q":38,"lo":-0.5,"hi":-0.342},{"p":"cbie_t","q":40,"lo":-0.481,"hi":-0.337},{"p":"cbie_t","q":45,"lo":-0.472,"hi":-0.337},{"p":"cbie_t","q":50,"lo":-0.467,"hi":-0.337},{"p":"cbie_t","q":55,"lo":-0.461,"hi":-0.342},{"p":"cbie_t","q":60,"lo":-0.467,"hi":-0.333},{"p":"cbie_t","q":65,"lo":-0.477,"hi":-0.337},{"p":"cbie_t","q":70,"lo":-0.486,"hi":-0.333},{"p":"cbie_t","q":75,"lo":-0.491,"hi":-0.328},{"p":"cbie_t","q":78,"lo":-0.505,"hi":-0.333},{"p":"cbie_t","q":80,"lo":-0.509,"hi":-0.342},{"p":"cbie_t","q":82,"lo":-0.5,"hi":-0.319},{"p":"cbie_t","q":84,"lo":-0.509,"hi":-0.333},{"p":"cbie_t","q":85,"lo":-0.528,"hi":-0.37},{"p":"cbie_t","q":87,"lo":-0.556,"hi":-0.412},{"p":"cbie_t","q":89,"lo":-0.593,"hi":-0.435},{"p":"cbie_t","q":91,"lo":-0.635,"hi":-0.43},{"p":"cbie_t","q":93,"lo":-0.63,"hi":-0.43},{"p":"cbie_t","q":95,"lo":-0.64,"hi":-0.426}
    ],
    "ols": [
      {"p":"res","k":"b","v":-0.035,"q0":5,"q1":95},{"p":"res","k":"lo","v":-0.145,"q0":5,"q1":95},{"p":"res","k":"hi","v":0.075,"q0":5,"q1":95},
      {"p":"niip","k":"b","v":-0.0115,"q0":5,"q1":95},{"p":"niip","k":"lo","v":-0.04,"q0":5,"q1":95},{"p":"niip","k":"hi","v":0.0165,"q0":5,"q1":95},
      {"p":"gov","k":"b","v":-0.41,"q0":5,"q1":95},{"p":"gov","k":"lo","v":-0.76,"q0":5,"q1":95},{"p":"gov","k":"hi","v":-0.07,"q0":5,"q1":95},
      {"p":"cpi","k":"b","v":0.27,"q0":5,"q1":95},{"p":"cpi","k":"lo","v":0.02,"q0":5,"q1":95},{"p":"cpi","k":"hi","v":0.52,"q0":5,"q1":95},
      {"p":"fuel","k":"b","v":0.095,"q0":5,"q1":95},{"p":"fuel","k":"lo","v":-0.002,"q0":5,"q1":95},{"p":"fuel","k":"hi","v":0.192,"q0":5,"q1":95},
      {"p":"cbi","k":"b","v":0.2,"q0":5,"q1":95},{"p":"cbi","k":"lo","v":0.12,"q0":5,"q1":95},{"p":"cbi","k":"hi","v":0.278,"q0":5,"q1":95},
      {"p":"wx","k":"b","v":2.94,"q0":5,"q1":95},{"p":"wx","k":"lo","v":2.44,"q0":5,"q1":95},{"p":"wx","k":"hi","v":3.45,"q0":5,"q1":95},
      {"p":"res_t","k":"b","v":-0.045,"q0":5,"q1":95},{"p":"res_t","k":"lo","v":-0.183,"q0":5,"q1":95},{"p":"res_t","k":"hi","v":0.094,"q0":5,"q1":95},
      {"p":"niip_t","k":"b","v":0.036,"q0":5,"q1":95},{"p":"niip_t","k":"lo","v":0.0,"q0":5,"q1":95},{"p":"niip_t","k":"hi","v":0.072,"q0":5,"q1":95},
      {"p":"gdef_t","k":"b","v":0.55,"q0":5,"q1":95},{"p":"gdef_t","k":"lo","v":0.02,"q0":5,"q1":95},{"p":"gdef_t","k":"hi","v":1.09,"q0":5,"q1":95},
      {"p":"fuelx_t","k":"b","v":-0.094,"q0":5,"q1":95},{"p":"fuelx_t","k":"lo","v":-0.215,"q0":5,"q1":95},{"p":"fuelx_t","k":"hi","v":0.025,"q0":5,"q1":95},
      {"p":"cbie_t","k":"b","v":-0.449,"q0":5,"q1":95},{"p":"cbie_t","k":"lo","v":-0.505,"q0":5,"q1":95},{"p":"cbie_t","k":"hi","v":-0.395,"q0":5,"q1":95}
    ]
  },
  "columns": 4,
  "spacing": {"row": 66, "column": 37},
  "concat": [
    {"title": "Reserves-to-GDP ratio", "width": 225, "height": 148, "layer": [
      {"data": {"name": "band"}, "transform": [{"filter": "datum.p === 'res'"}], "mark": {"type": "area", "color": "#b7c6d6"},
       "encoding": {"x": {"field": "q", "type": "quantitative", "title": "Quantile", "scale": {"domain": [0, 100], "nice": false}, "axis": {"values": [0, 20, 40, 60, 80, 100], "tickCount": 12}},
                    "y": {"field": "lo", "type": "quantitative", "title": null, "scale": {"domain": [-0.452, 0.4], "nice": false, "zero": false}, "axis": {"values": [-0.4, -0.2, 0, 0.2, 0.4], "tickCount": 12}},
                    "y2": {"field": "hi"}}},
      {"data": {"name": "ols"}, "transform": [{"filter": "datum.p === 'res'"}], "mark": {"type": "rule"},
       "encoding": {"x": {"field": "q0", "type": "quantitative", "title": "Quantile"}, "x2": {"field": "q1"}, "y": {"field": "v", "type": "quantitative", "title": null},
                    "color": {"field": "k", "type": "nominal", "scale": {"domain": ["b", "lo", "hi"], "range": ["#262626", "#7d7d7d", "#7d7d7d"]}, "legend": null},
                    "strokeDash": {"field": "k", "type": "nominal", "scale": {"domain": ["b", "lo", "hi"], "range": [[1, 0], [10, 5], [10, 5]]}, "legend": null},
                    "strokeWidth": {"field": "k", "type": "nominal", "scale": {"domain": ["b", "lo", "hi"], "range": [2, 1.6, 1.6]}, "legend": null}}},
      {"data": {"name": "est"}, "transform": [{"filter": "datum.p === 'res'"}], "mark": {"type": "line", "color": "#1f4a70", "strokeWidth": 1.5},
       "encoding": {"x": {"field": "q", "type": "quantitative", "title": "Quantile"}, "y": {"field": "b", "type": "quantitative", "title": null}}}
    ]},
    {"title": "Net International Investment Position", "width": 225, "height": 148, "layer": [
      {"data": {"name": "band"}, "transform": [{"filter": "datum.p === 'niip'"}], "mark": {"type": "area", "color": "#b7c6d6"},
       "encoding": {"x": {"field": "q", "type": "quantitative", "title": "Quantile", "scale": {"domain": [0, 100], "nice": false}, "axis": {"values": [0, 20, 40, 60, 80, 100], "tickCount": 12}},
                    "y": {"field": "lo", "type": "quantitative", "title": null, "scale": {"domain": [-0.109, 0.1], "nice": false, "zero": false}, "axis": {"values": [-0.1, -0.05, 0, 0.05, 0.1], "tickCount": 12}},
                    "y2": {"field": "hi"}}},
      {"data": {"name": "ols"}, "transform": [{"filter": "datum.p === 'niip'"}], "mark": {"type": "rule"},
       "encoding": {"x": {"field": "q0", "type": "quantitative", "title": "Quantile"}, "x2": {"field": "q1"}, "y": {"field": "v", "type": "quantitative", "title": null},
                    "color": {"field": "k", "type": "nominal", "scale": {"domain": ["b", "lo", "hi"], "range": ["#262626", "#7d7d7d", "#7d7d7d"]}, "legend": null},
                    "strokeDash": {"field": "k", "type": "nominal", "scale": {"domain": ["b", "lo", "hi"], "range": [[1, 0], [10, 5], [10, 5]]}, "legend": null},
                    "strokeWidth": {"field": "k", "type": "nominal", "scale": {"domain": ["b", "lo", "hi"], "range": [2, 1.6, 1.6]}, "legend": null}}},
      {"data": {"name": "est"}, "transform": [{"filter": "datum.p === 'niip'"}], "mark": {"type": "line", "color": "#1f4a70", "strokeWidth": 1.5},
       "encoding": {"x": {"field": "q", "type": "quantitative", "title": "Quantile"}, "y": {"field": "b", "type": "quantitative", "title": null}}}
    ]},
    {"title": "Gov. Net Lending", "width": 225, "height": 148, "layer": [
      {"data": {"name": "band"}, "transform": [{"filter": "datum.p === 'gov'"}], "mark": {"type": "area", "color": "#b7c6d6"},
       "encoding": {"x": {"field": "q", "type": "quantitative", "title": "Quantile", "scale": {"domain": [0, 100], "nice": false}, "axis": {"values": [0, 20, 40, 60, 80, 100], "tickCount": 12}},
                    "y": {"field": "lo", "type": "quantitative", "title": null, "scale": {"domain": [-1.72, 0.5], "nice": false, "zero": false}, "axis": {"values": [-1.5, -1, -0.5, 0, 0.5], "tickCount": 12}},
                    "y2": {"field": "hi"}}},
      {"data": {"name": "ols"}, "transform": [{"filter": "datum.p === 'gov'"}], "mark": {"type": "rule"},
       "encoding": {"x": {"field": "q0", "type": "quantitative", "title": "Quantile"}, "x2": {"field": "q1"}, "y": {"field": "v", "type": "quantitative", "title": null},
                    "color": {"field": "k", "type": "nominal", "scale": {"domain": ["b", "lo", "hi"], "range": ["#262626", "#7d7d7d", "#7d7d7d"]}, "legend": null},
                    "strokeDash": {"field": "k", "type": "nominal", "scale": {"domain": ["b", "lo", "hi"], "range": [[1, 0], [10, 5], [10, 5]]}, "legend": null},
                    "strokeWidth": {"field": "k", "type": "nominal", "scale": {"domain": ["b", "lo", "hi"], "range": [2, 1.6, 1.6]}, "legend": null}}},
      {"data": {"name": "est"}, "transform": [{"filter": "datum.p === 'gov'"}], "mark": {"type": "line", "color": "#1f4a70", "strokeWidth": 1.5},
       "encoding": {"x": {"field": "q", "type": "quantitative", "title": "Quantile"}, "y": {"field": "b", "type": "quantitative", "title": null}}}
    ]},
    {"title": {"text": "Consumer Price Inflation", "offset": 5}, "width": 225, "height": 148, "layer": [
      {"data": {"name": "band"}, "transform": [{"filter": "datum.p === 'cpi'"}], "mark": {"type": "area", "color": "#b7c6d6"},
       "encoding": {"x": {"field": "q", "type": "quantitative", "title": "Quantile", "scale": {"domain": [0, 100], "nice": false}, "axis": {"values": [0, 20, 40, 60, 80, 100], "tickCount": 12}},
                    "y": {"field": "lo", "type": "quantitative", "title": null, "scale": {"domain": [-0.715, 1.56], "nice": false, "zero": false}, "axis": {"values": [-0.5, 0, 0.5, 1, 1.5], "tickCount": 12}},
                    "y2": {"field": "hi"}}},
      {"data": {"name": "ols"}, "transform": [{"filter": "datum.p === 'cpi'"}], "mark": {"type": "rule"},
       "encoding": {"x": {"field": "q0", "type": "quantitative", "title": "Quantile"}, "x2": {"field": "q1"}, "y": {"field": "v", "type": "quantitative", "title": null},
                    "color": {"field": "k", "type": "nominal", "scale": {"domain": ["b", "lo", "hi"], "range": ["#262626", "#7d7d7d", "#7d7d7d"]}, "legend": null},
                    "strokeDash": {"field": "k", "type": "nominal", "scale": {"domain": ["b", "lo", "hi"], "range": [[1, 0], [10, 5], [10, 5]]}, "legend": null},
                    "strokeWidth": {"field": "k", "type": "nominal", "scale": {"domain": ["b", "lo", "hi"], "range": [2, 1.6, 1.6]}, "legend": null}}},
      {"data": {"name": "est"}, "transform": [{"filter": "datum.p === 'cpi'"}], "mark": {"type": "line", "color": "#1f4a70", "strokeWidth": 1.5},
       "encoding": {"x": {"field": "q", "type": "quantitative", "title": "Quantile"}, "y": {"field": "b", "type": "quantitative", "title": null}}}
    ]},
    {"title": {"text": "Fuel Export on Total Exports", "offset": 5}, "width": 225, "height": 148, "layer": [
      {"data": {"name": "band"}, "transform": [{"filter": "datum.p === 'fuel'"}], "mark": {"type": "area", "color": "#b7c6d6"},
       "encoding": {"x": {"field": "q", "type": "quantitative", "title": "Quantile", "scale": {"domain": [0, 100], "nice": false}, "axis": {"values": [0, 20, 40, 60, 80, 100], "tickCount": 12}},
                    "y": {"field": "lo", "type": "quantitative", "title": null, "scale": {"domain": [-0.209, 0.437], "nice": false, "zero": false}, "axis": {"values": [-0.2, 0, 0.2, 0.4], "tickCount": 12}},
                    "y2": {"field": "hi"}}},
      {"data": {"name": "ols"}, "transform": [{"filter": "datum.p === 'fuel'"}], "mark": {"type": "rule"},
       "encoding": {"x": {"field": "q0", "type": "quantitative", "title": "Quantile"}, "x2": {"field": "q1"}, "y": {"field": "v", "type": "quantitative", "title": null},
                    "color": {"field": "k", "type": "nominal", "scale": {"domain": ["b", "lo", "hi"], "range": ["#262626", "#7d7d7d", "#7d7d7d"]}, "legend": null},
                    "strokeDash": {"field": "k", "type": "nominal", "scale": {"domain": ["b", "lo", "hi"], "range": [[1, 0], [10, 5], [10, 5]]}, "legend": null},
                    "strokeWidth": {"field": "k", "type": "nominal", "scale": {"domain": ["b", "lo", "hi"], "range": [2, 1.6, 1.6]}, "legend": null}}},
      {"data": {"name": "est"}, "transform": [{"filter": "datum.p === 'fuel'"}], "mark": {"type": "line", "color": "#1f4a70", "strokeWidth": 1.5},
       "encoding": {"x": {"field": "q", "type": "quantitative", "title": "Quantile"}, "y": {"field": "b", "type": "quantitative", "title": null}}}
    ]},
    {"title": "Central Bank Independence", "width": 225, "height": 148, "layer": [
      {"data": {"name": "band"}, "transform": [{"filter": "datum.p === 'cbi'"}], "mark": {"type": "area", "color": "#b7c6d6"},
       "encoding": {"x": {"field": "q", "type": "quantitative", "title": "Quantile", "scale": {"domain": [0, 100], "nice": false}, "axis": {"values": [0, 20, 40, 60, 80, 100], "tickCount": 12}},
                    "y": {"field": "lo", "type": "quantitative", "title": null, "scale": {"domain": [-0.213, 0.6], "nice": false, "zero": false}, "axis": {"values": [-0.2, 0, 0.2, 0.4, 0.6], "tickCount": 12}},
                    "y2": {"field": "hi"}}},
      {"data": {"name": "ols"}, "transform": [{"filter": "datum.p === 'cbi'"}], "mark": {"type": "rule"},
       "encoding": {"x": {"field": "q0", "type": "quantitative", "title": "Quantile"}, "x2": {"field": "q1"}, "y": {"field": "v", "type": "quantitative", "title": null},
                    "color": {"field": "k", "type": "nominal", "scale": {"domain": ["b", "lo", "hi"], "range": ["#262626", "#7d7d7d", "#7d7d7d"]}, "legend": null},
                    "strokeDash": {"field": "k", "type": "nominal", "scale": {"domain": ["b", "lo", "hi"], "range": [[1, 0], [10, 5], [10, 5]]}, "legend": null},
                    "strokeWidth": {"field": "k", "type": "nominal", "scale": {"domain": ["b", "lo", "hi"], "range": [2, 1.6, 1.6]}, "legend": null}}},
      {"data": {"name": "est"}, "transform": [{"filter": "datum.p === 'cbi'"}], "mark": {"type": "line", "color": "#1f4a70", "strokeWidth": 1.5},
       "encoding": {"x": {"field": "q", "type": "quantitative", "title": "Quantile"}, "y": {"field": "b", "type": "quantitative", "title": null}}}
    ]},
    {"title": "Wu-Xia Shadow Federal Funds Rate", "width": 225, "height": 148, "layer": [
      {"data": {"name": "band"}, "transform": [{"filter": "datum.p === 'wx'"}], "mark": {"type": "area", "color": "#b7c6d6"},
       "encoding": {"x": {"field": "q", "type": "quantitative", "title": "Quantile", "scale": {"domain": [0, 100], "nice": false}, "axis": {"values": [0, 20, 40, 60, 80, 100], "tickCount": 12}},
                    "y": {"field": "lo", "type": "quantitative", "title": null, "scale": {"domain": [0.93, 5], "nice": false, "zero": false}, "axis": {"values": [1, 2, 3, 4, 5], "tickCount": 12}},
                    "y2": {"field": "hi"}}},
      {"data": {"name": "ols"}, "transform": [{"filter": "datum.p === 'wx'"}], "mark": {"type": "rule"},
       "encoding": {"x": {"field": "q0", "type": "quantitative", "title": "Quantile"}, "x2": {"field": "q1"}, "y": {"field": "v", "type": "quantitative", "title": null},
                    "color": {"field": "k", "type": "nominal", "scale": {"domain": ["b", "lo", "hi"], "range": ["#262626", "#7d7d7d", "#7d7d7d"]}, "legend": null},
                    "strokeDash": {"field": "k", "type": "nominal", "scale": {"domain": ["b", "lo", "hi"], "range": [[1, 0], [10, 5], [10, 5]]}, "legend": null},
                    "strokeWidth": {"field": "k", "type": "nominal", "scale": {"domain": ["b", "lo", "hi"], "range": [2, 1.6, 1.6]}, "legend": null}}},
      {"data": {"name": "est"}, "transform": [{"filter": "datum.p === 'wx'"}], "mark": {"type": "line", "color": "#1f4a70", "strokeWidth": 1.5},
       "encoding": {"x": {"field": "q", "type": "quantitative", "title": "Quantile"}, "y": {"field": "b", "type": "quantitative", "title": null}}}
    ]},
    {"title": "c.RESGDP#c.tight", "width": 225, "height": 148, "layer": [
      {"data": {"name": "band"}, "transform": [{"filter": "datum.p === 'res_t'"}], "mark": {"type": "area", "color": "#b7c6d6"},
       "encoding": {"x": {"field": "q", "type": "quantitative", "title": "Quantile", "scale": {"domain": [0, 100], "nice": false}, "axis": {"values": [0, 20, 40, 60, 80, 100], "tickCount": 12}},
                    "y": {"field": "lo", "type": "quantitative", "title": null, "scale": {"domain": [-0.53, 0.5], "nice": false, "zero": false}, "axis": {"values": [-0.5, 0, 0.5], "tickCount": 12}},
                    "y2": {"field": "hi"}}},
      {"data": {"name": "ols"}, "transform": [{"filter": "datum.p === 'res_t'"}], "mark": {"type": "rule"},
       "encoding": {"x": {"field": "q0", "type": "quantitative", "title": "Quantile"}, "x2": {"field": "q1"}, "y": {"field": "v", "type": "quantitative", "title": null},
                    "color": {"field": "k", "type": "nominal", "scale": {"domain": ["b", "lo", "hi"], "range": ["#262626", "#7d7d7d", "#7d7d7d"]}, "legend": null},
                    "strokeDash": {"field": "k", "type": "nominal", "scale": {"domain": ["b", "lo", "hi"], "range": [[1, 0], [10, 5], [10, 5]]}, "legend": null},
                    "strokeWidth": {"field": "k", "type": "nominal", "scale": {"domain": ["b", "lo", "hi"], "range": [2, 1.6, 1.6]}, "legend": null}}},
      {"data": {"name": "est"}, "transform": [{"filter": "datum.p === 'res_t'"}], "mark": {"type": "line", "color": "#1f4a70", "strokeWidth": 1.5},
       "encoding": {"x": {"field": "q", "type": "quantitative", "title": "Quantile"}, "y": {"field": "b", "type": "quantitative", "title": null}}}
    ]},
    {"title": "c.NIIP#c.tight", "width": 225, "height": 148, "layer": [
      {"data": {"name": "band"}, "transform": [{"filter": "datum.p === 'niip_t'"}], "mark": {"type": "area", "color": "#b7c6d6"},
       "encoding": {"x": {"field": "q", "type": "quantitative", "title": "Quantile", "scale": {"domain": [0, 100], "nice": false}, "axis": {"values": [0, 20, 40, 60, 80, 100], "tickCount": 12}},
                    "y": {"field": "lo", "type": "quantitative", "title": null, "scale": {"domain": [-0.1094, 0.15], "nice": false, "zero": false}, "axis": {"values": [-0.1, -0.05, 0, 0.05, 0.1, 0.15], "tickCount": 12}},
                    "y2": {"field": "hi"}}},
      {"data": {"name": "ols"}, "transform": [{"filter": "datum.p === 'niip_t'"}], "mark": {"type": "rule"},
       "encoding": {"x": {"field": "q0", "type": "quantitative", "title": "Quantile"}, "x2": {"field": "q1"}, "y": {"field": "v", "type": "quantitative", "title": null},
                    "color": {"field": "k", "type": "nominal", "scale": {"domain": ["b", "lo", "hi"], "range": ["#262626", "#7d7d7d", "#7d7d7d"]}, "legend": null},
                    "strokeDash": {"field": "k", "type": "nominal", "scale": {"domain": ["b", "lo", "hi"], "range": [[1, 0], [10, 5], [10, 5]]}, "legend": null},
                    "strokeWidth": {"field": "k", "type": "nominal", "scale": {"domain": ["b", "lo", "hi"], "range": [2, 1.6, 1.6]}, "legend": null}}},
      {"data": {"name": "est"}, "transform": [{"filter": "datum.p === 'niip_t'"}], "mark": {"type": "line", "color": "#1f4a70", "strokeWidth": 1.5},
       "encoding": {"x": {"field": "q", "type": "quantitative", "title": "Quantile"}, "y": {"field": "b", "type": "quantitative", "title": null}}}
    ]},
    {"title": "c.GDeficit#c.tight", "width": 225, "height": 148, "layer": [
      {"data": {"name": "band"}, "transform": [{"filter": "datum.p === 'gdef_t'"}], "mark": {"type": "area", "color": "#b7c6d6"},
       "encoding": {"x": {"field": "q", "type": "quantitative", "title": "Quantile", "scale": {"domain": [0, 100], "nice": false}, "axis": {"values": [0, 20, 40, 60, 80, 100], "tickCount": 12}},
                    "y": {"field": "lo", "type": "quantitative", "title": null, "scale": {"domain": [-1.07, 3], "nice": false, "zero": false}, "axis": {"values": [-1, 0, 1, 2, 3], "tickCount": 12}},
                    "y2": {"field": "hi"}}},
      {"data": {"name": "ols"}, "transform": [{"filter": "datum.p === 'gdef_t'"}], "mark": {"type": "rule"},
       "encoding": {"x": {"field": "q0", "type": "quantitative", "title": "Quantile"}, "x2": {"field": "q1"}, "y": {"field": "v", "type": "quantitative", "title": null},
                    "color": {"field": "k", "type": "nominal", "scale": {"domain": ["b", "lo", "hi"], "range": ["#262626", "#7d7d7d", "#7d7d7d"]}, "legend": null},
                    "strokeDash": {"field": "k", "type": "nominal", "scale": {"domain": ["b", "lo", "hi"], "range": [[1, 0], [10, 5], [10, 5]]}, "legend": null},
                    "strokeWidth": {"field": "k", "type": "nominal", "scale": {"domain": ["b", "lo", "hi"], "range": [2, 1.6, 1.6]}, "legend": null}}},
      {"data": {"name": "est"}, "transform": [{"filter": "datum.p === 'gdef_t'"}], "mark": {"type": "line", "color": "#1f4a70", "strokeWidth": 1.5},
       "encoding": {"x": {"field": "q", "type": "quantitative", "title": "Quantile"}, "y": {"field": "b", "type": "quantitative", "title": null}}}
    ]},
    {"title": {"text": "c.FUELX#c.tight", "offset": 5}, "width": 225, "height": 148, "layer": [
      {"data": {"name": "band"}, "transform": [{"filter": "datum.p === 'fuelx_t'"}], "mark": {"type": "area", "color": "#b7c6d6"},
       "encoding": {"x": {"field": "q", "type": "quantitative", "title": "Quantile", "scale": {"domain": [0, 100], "nice": false}, "axis": {"values": [0, 20, 40, 60, 80, 100], "tickCount": 12}},
                    "y": {"field": "lo", "type": "quantitative", "title": null, "scale": {"domain": [-0.488, 0.241], "nice": false, "zero": false}, "axis": {"values": [-0.4, -0.2, 0, 0.2], "tickCount": 12}},
                    "y2": {"field": "hi"}}},
      {"data": {"name": "ols"}, "transform": [{"filter": "datum.p === 'fuelx_t'"}], "mark": {"type": "rule"},
       "encoding": {"x": {"field": "q0", "type": "quantitative", "title": "Quantile"}, "x2": {"field": "q1"}, "y": {"field": "v", "type": "quantitative", "title": null},
                    "color": {"field": "k", "type": "nominal", "scale": {"domain": ["b", "lo", "hi"], "range": ["#262626", "#7d7d7d", "#7d7d7d"]}, "legend": null},
                    "strokeDash": {"field": "k", "type": "nominal", "scale": {"domain": ["b", "lo", "hi"], "range": [[1, 0], [10, 5], [10, 5]]}, "legend": null},
                    "strokeWidth": {"field": "k", "type": "nominal", "scale": {"domain": ["b", "lo", "hi"], "range": [2, 1.6, 1.6]}, "legend": null}}},
      {"data": {"name": "est"}, "transform": [{"filter": "datum.p === 'fuelx_t'"}], "mark": {"type": "line", "color": "#1f4a70", "strokeWidth": 1.5},
       "encoding": {"x": {"field": "q", "type": "quantitative", "title": "Quantile"}, "y": {"field": "b", "type": "quantitative", "title": null}}}
    ]},
    {"title": "c.cbie_index#c.tight", "width": 225, "height": 148, "layer": [
      {"data": {"name": "band"}, "transform": [{"filter": "datum.p === 'cbie_t'"}], "mark": {"type": "area", "color": "#b7c6d6"},
       "encoding": {"x": {"field": "q", "type": "quantitative", "title": "Quantile", "scale": {"domain": [0, 100], "nice": false}, "axis": {"values": [0, 20, 40, 60, 80, 100], "tickCount": 12}},
                    "y": {"field": "lo", "type": "quantitative", "title": null, "scale": {"domain": [-0.714, -0.3], "nice": false, "zero": false}, "axis": {"values": [-0.7, -0.6, -0.5, -0.4, -0.3], "tickCount": 12}},
                    "y2": {"field": "hi"}}},
      {"data": {"name": "ols"}, "transform": [{"filter": "datum.p === 'cbie_t'"}], "mark": {"type": "rule"},
       "encoding": {"x": {"field": "q0", "type": "quantitative", "title": "Quantile"}, "x2": {"field": "q1"}, "y": {"field": "v", "type": "quantitative", "title": null},
                    "color": {"field": "k", "type": "nominal", "scale": {"domain": ["b", "lo", "hi"], "range": ["#262626", "#7d7d7d", "#7d7d7d"]}, "legend": null},
                    "strokeDash": {"field": "k", "type": "nominal", "scale": {"domain": ["b", "lo", "hi"], "range": [[1, 0], [10, 5], [10, 5]]}, "legend": null},
                    "strokeWidth": {"field": "k", "type": "nominal", "scale": {"domain": ["b", "lo", "hi"], "range": [2, 1.6, 1.6]}, "legend": null}}},
      {"data": {"name": "est"}, "transform": [{"filter": "datum.p === 'cbie_t'"}], "mark": {"type": "line", "color": "#1f4a70", "strokeWidth": 1.5},
       "encoding": {"x": {"field": "q", "type": "quantitative", "title": "Quantile"}, "y": {"field": "b", "type": "quantitative", "title": null}}}
    ]}
  ],
  "config": {
    "font": "Liberation Sans",
    "view": {"stroke": null},
    "title": {"fontSize": 14.4, "fontWeight": "normal", "color": "#1a1a1a", "offset": 1},
    "axis": {
      "labelFontSize": 9, "labelColor": "#444444", "labelOverlap": false, "domainColor": "#8c8c8c", "tickColor": "#8c8c8c", "tickSize": 4,
      "grid": true, "gridColor": "#d9d9d9", "gridDash": [2, 3], "gridWidth": 1,
      "titleFontSize": 8, "titleFontWeight": "normal", "titleColor": "#444444"
    },
    "axisX": {"titlePadding": 2, "labelPadding": 2},
    "axisY": {"labelPadding": 2,
      "labelExpr": "datum.value == 0 ? '0' : (abs(datum.value) < 1 ? (datum.value < 0 ? '-' : '') + substring(format(abs(datum.value), '~g'), 1) : replace(format(datum.value, '~g'), '\u2212', '-'))"}
  }
}
